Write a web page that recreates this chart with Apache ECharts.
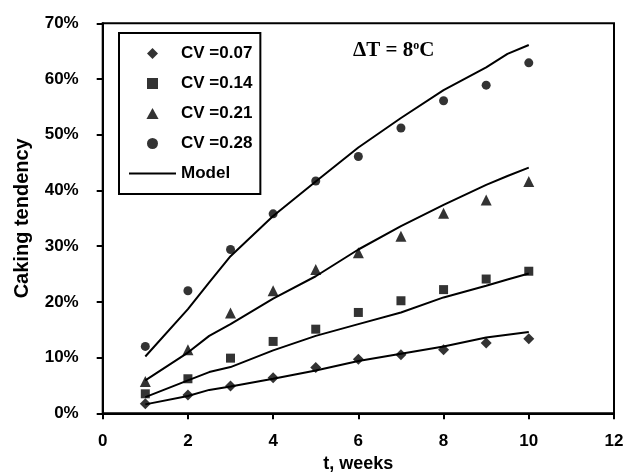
<!DOCTYPE html>
<html>
<head>
<meta charset="utf-8">
<script src="https://cdn.jsdelivr.net/npm/echarts@6/dist/echarts.min.js"></script>
<style>html,body{margin:0;padding:0;background:#fff}#c{width:627px;height:472px}</style>
</head>
<body>
<div id="c"></div>
<script>
// Measured weeks
var weeks = [1, 2, 3, 4, 5, 6, 7, 8, 9, 10];
// Measured caking tendency (%)
var cv007 = [1.7, 3.3, 4.9, 6.4, 8.2, 9.7, 10.5, 11.4, 12.6, 13.4];
var cv014 = [3.5, 6.2, 9.9, 12.9, 15.1, 18.1, 20.2, 22.2, 24.1, 25.5];
var cv021 = [5.7, 11.4, 18.0, 22.0, 25.8, 28.8, 31.8, 35.9, 38.3, 41.6];
var cv028 = [12.0, 22.0, 29.4, 35.8, 41.7, 46.1, 51.2, 56.1, 58.9, 62.9];
// Model curves
var modelT = [1, 2, 2.5, 3, 4, 5, 6, 7, 8, 9, 9.5, 10];
var model007 = [1.6, 3.1, 4.2, 4.8, 6.2, 7.7, 9.4, 10.7, 12.0, 13.6, 14.1, 14.6];
var model014 = [2.9, 5.9, 7.4, 8.3, 11.3, 13.9, 16.0, 18.1, 20.8, 22.9, 24.0, 25.1];
var model021 = [5.9, 10.9, 13.9, 16.0, 20.6, 24.6, 29.4, 33.6, 37.4, 41.0, 42.6, 44.1];
var model028 = [10.2, 18.7, 23.5, 28.2, 35.4, 41.6, 47.7, 53.0, 58.0, 62.1, 64.5, 66.1];
var xTicks = [0, 2, 4, 6, 8, 10, 12];
var names = ['CV =0.07', 'CV =0.14', 'CV =0.21', 'CV =0.28'];

function pairs(xs, ys) { return xs.map(function (x, i) { return [x, ys[i]]; }); }

var FONT = '"Liberation Sans", Arial, sans-serif';
var SERIF = '"Liberation Serif", "Times New Roman", serif';
var chart = echarts.init(document.getElementById('c'));
var symbols = ['diamond', 'rect', 'triangle', 'circle'];
var legendIcons = [
  'path://M5,-0.5L10.5,5L5,10.5L-0.5,5Z',
  'path://M0.5,0.5L9.5,0.5L9.5,9.5L0.5,9.5Z',
  'path://M5,0L10.5,10L-0.5,10Z',
  'path://M5,0.5A4.5,4.5,0,1,1,5,9.5A4.5,4.5,0,1,1,5,0.5Z'
];
var sizes = [11, 9, 11, 9];
var obs = [cv007, cv014, cv021, cv028];
var mods = [model007, model014, model021, model028];
var series = [];
obs.forEach(function (d, i) {
  series.push({
    name: names[i], type: 'scatter', data: pairs(weeks, d),
    symbol: symbols[i], symbolSize: sizes[i],
    itemStyle: { color: '#000' }, z: 3
  });
});
mods.forEach(function (d) {
  series.push({
    name: 'Model', type: 'line', data: pairs(modelT, d),
    symbol: 'none', showSymbol: false,
    lineStyle: { color: '#000', width: 2 }, itemStyle: { color: '#000' }, z: 2
  });
});

var legendData = names.map(function (n, i) { return { name: n, icon: legendIcons[i] }; });
legendData.push({ name: 'Model', icon: 'path://M0,0L47,0L47,2L0,2Z' });

chart.setOption({
  animation: false,
  backgroundColor: '#fff',
  textStyle: { fontFamily: FONT },
  title: {
    left: 348, top: 35,
    text: '{a|ΔT = 8}{s|o}{a|C}',
    textStyle: {
      rich: {
        a: { fontFamily: SERIF, fontWeight: 'bold', fontSize: 21, color: '#000', verticalAlign: 'bottom' },
        s: { fontFamily: SERIF, fontWeight: 'bold', fontSize: 12, color: '#000', verticalAlign: 'top', padding: [0, 0, 9, 0] }
      }
    }
  },
  legend: {
    orient: 'vertical', left: 119, top: 33,
    data: legendData,
    itemWidth: 47, itemHeight: 11, itemGap: 13,
    symbolKeepAspect: true,
    padding: [12, 8, 12, 10],
    borderColor: '#000', borderWidth: 2,
    backgroundColor: '#fff',
    itemStyle: { color: '#000' },
    textStyle: { fontFamily: FONT, fontWeight: 'bold', fontSize: 17, color: '#000' },
    selectedMode: false
  },
  grid: {
    left: 102.7, right: 13, top: 23.3, bottom: 58.7,
    outerBoundsMode: 'none', containLabel: false,
    show: true, borderColor: '#000', borderWidth: 2, backgroundColor: 'transparent'
  },
  xAxis: {
    type: 'value', min: 0, max: 12, interval: 2,
    name: 't, weeks', nameLocation: 'middle', nameGap: 39,
    nameTextStyle: { fontFamily: FONT, fontWeight: 'bold', fontSize: 18, color: '#000' },
    axisLine: { lineStyle: { color: '#000', width: 2 } },
    axisTick: { show: true, inside: false, length: 6, lineStyle: { color: '#000', width: 2 } },
    axisLabel: { margin: 20, fontFamily: FONT, fontWeight: 'bold', fontSize: 17, color: '#000',
      formatter: function (v) { return xTicks.indexOf(v) >= 0 ? String(v) : ''; } },
    splitLine: { show: false }
  },
  yAxis: {
    type: 'value', min: 0, max: 70, interval: 10,
    name: 'Caking tendency', nameLocation: 'middle', nameGap: 70, nameRotate: 90,
    nameTextStyle: { fontFamily: FONT, fontWeight: 'bold', fontSize: 20, color: '#000' },
    axisLine: { show: true, lineStyle: { color: '#000', width: 2 } },
    axisTick: { show: true, inside: false, length: 6, lineStyle: { color: '#000', width: 2 } },
    axisLabel: { margin: 24, fontFamily: FONT, fontWeight: 'bold', fontSize: 17, color: '#000', formatter: '{value}%' },
    splitLine: { show: false }
  },
  series: series
});
</script>
</body>
</html>
